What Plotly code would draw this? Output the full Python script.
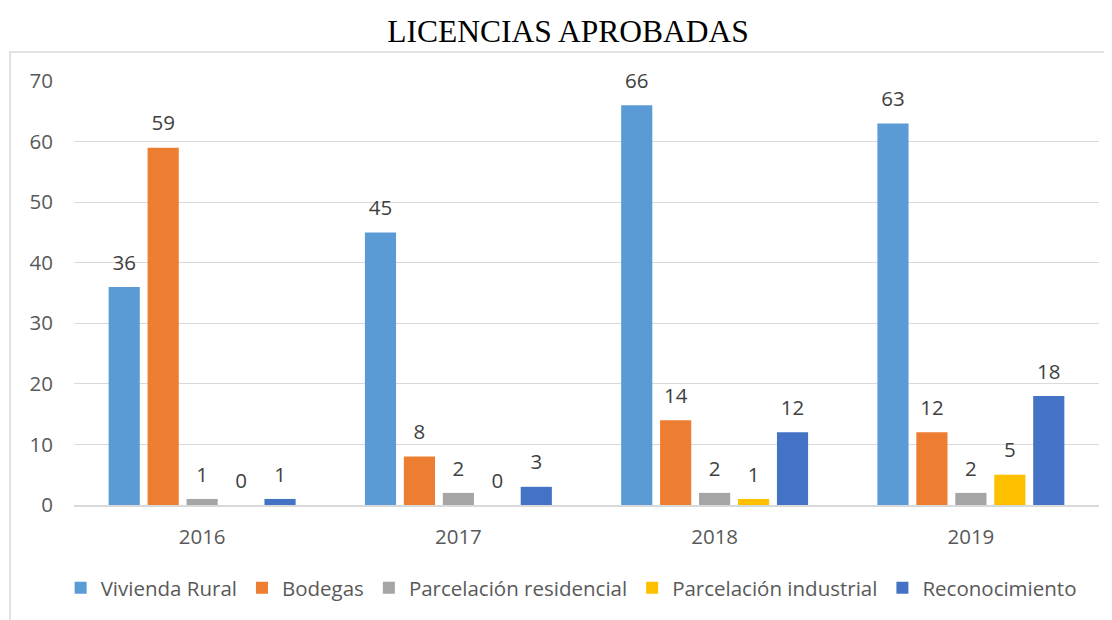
import plotly.graph_objects as go

years = ["2016", "2017", "2018", "2019"]
series_names = ["Vivienda Rural", "Bodegas", "Parcelación residencial",
                "Parcelación industrial", "Reconocimiento"]
vivienda_rural = [36, 45, 66, 63]
bodegas = [59, 8, 14, 12]
parcelacion_residencial = [1, 2, 2, 2]
parcelacion_industrial = [0, 0, 1, 5]
reconocimiento = [1, 3, 12, 18]
colors = ["#5B9BD5", "#ED7D31", "#A5A5A5", "#FFC000", "#4472C4"]

values = [vivienda_rural, bodegas, parcelacion_residencial,
          parcelacion_industrial, reconocimiento]

FONT = "Open Sans"
TXT = "#595959"
FS = 20.5

# page body has an 8px offset; plot area targets page px x 74..1099, y 81..505
L, T, R, B = 66, 73, 21, 123

fig = go.Figure()
for i, (name, vals, col) in enumerate(zip(series_names, values, colors)):
    fig.add_trace(go.Bar(
        name=name, x=years, y=vals, marker=dict(color=col, line=dict(width=0)),
        offsetgroup=str(i), alignmentgroup="a",
    ))
for i, (name, vals) in enumerate(zip(series_names, values)):
    fig.add_trace(go.Scatter(
        x=years, y=vals, mode="markers+text", text=[str(v) for v in vals],
        textposition="top center", marker=dict(size=18, opacity=0),
        textfont=dict(family=FONT, size=FS, color="#404040"),
        offsetgroup=str(i), alignmentgroup="a",
        showlegend=False, hoverinfo="skip", cliponaxis=False,
    ))

fig.update_layout(
    width=1112, height=620,
    margin=dict(l=L, r=R, t=T, b=B),
    paper_bgcolor="white", plot_bgcolor="white",
    barmode="group", bargap=0.24, bargroupgap=0.2,
    scattermode="group", scattergap=0.24,
    title=dict(text="LICENCIAS APROBADAS", x=(568 - 8) / 1112, xref="container",
               xanchor="center", y=1 - 23 / 620, yanchor="middle",
               font=dict(family="Liberation Serif", size=31.5, color="black")),
    font=dict(family=FONT, size=FS, color=TXT),
    showlegend=True,
    legend=dict(orientation="h", x=0.485, xanchor="center", y=(505 - 588) / 424,
                yanchor="middle", font=dict(family=FONT, size=FS, color=TXT),
                itemwidth=30, traceorder="normal"),
    xaxis=dict(type="category", showgrid=False, showline=True, linecolor="#D9D9D9",
               linewidth=1.5, ticks="", ticklabelstandoff=13,
               tickfont=dict(family=FONT, size=FS, color=TXT)),
    yaxis=dict(range=[0, 70], dtick=10, showgrid=True, gridcolor="#D9D9D9", gridwidth=1,
               zeroline=False, showline=False, ticks="", ticklabelstandoff=20,
               tickfont=dict(family=FONT, size=FS, color=TXT)),
    shapes=[dict(type="rect", xref="paper", yref="paper",
                 x0=(10 - 74) / 1025, x1=1.05, y0=-0.4, y1=(505 - 52) / 424,
                 line=dict(color="#D9D9D9", width=1.5), fillcolor="rgba(0,0,0,0)",
                 layer="below")],
)

fig.write_html("out.html")
